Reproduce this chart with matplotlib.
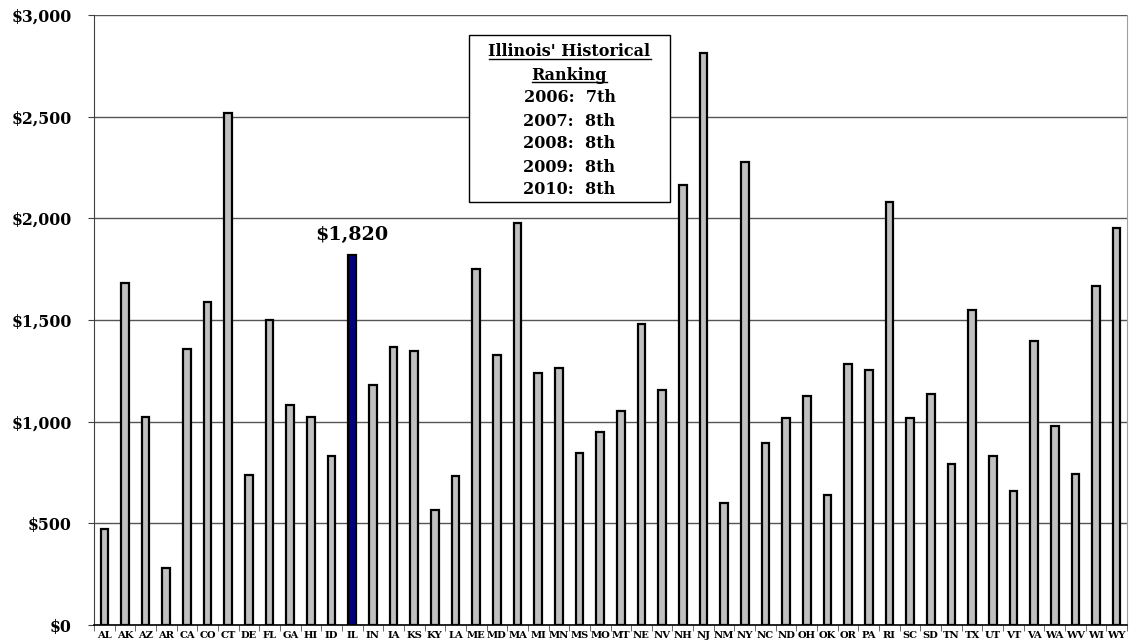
import matplotlib
matplotlib.use("Agg")
import matplotlib.pyplot as plt
from matplotlib.patches import Rectangle
from matplotlib.ticker import FuncFormatter, MultipleLocator
import numpy as np

states = ["AL", "AK", "AZ", "AR", "CA", "CO", "CT", "DE", "FL", "GA",
          "HI", "ID", "IL", "IN", "IA", "KS", "KY", "LA", "ME", "MD",
          "MA", "MI", "MN", "MS", "MO", "MT", "NE", "NV", "NH", "NJ",
          "NM", "NY", "NC", "ND", "OH", "OK", "OR", "PA", "RI", "SC",
          "SD", "TN", "TX", "UT", "VT", "VA", "WA", "WV", "WI", "WY"]
values = [472, 1681, 1021, 279, 1356, 1590, 2517, 739, 1500, 1082,
          1021, 833, 1820, 1180, 1366, 1349, 564, 734, 1753, 1327,
          1979, 1238, 1264, 845, 951, 1052, 1479, 1157, 2162, 2813,
          601, 2275, 896, 1017, 1127, 637, 1282, 1254, 2082, 1017,
          1136, 792, 1549, 831, 661, 1397, 980, 743, 1669, 1954]
highlight = "IL"
box_lines = ["Illinois' Historical", "Ranking", "2006:  7th", "2007:  8th",
             "2008:  8th", "2009:  8th", "2010:  8th"]

plt.rcParams["font.family"] = ["DejaVu Serif"]
plt.rcParams["font.weight"] = "bold"

fig = plt.figure(figsize=(11.3, 6.44), dpi=100)
ax = fig.add_axes([94 / 1130, 19 / 644, 1033 / 1130, 610 / 644])

x = np.arange(len(states))
colors = ["#000080" if s == highlight else "#c0c0c0" for s in states]
ax.bar(x, values, width=0.37, color=colors, edgecolor="black", linewidth=1.6, zorder=3)

ax.set_xlim(-0.5, len(states) - 0.5)
ax.set_ylim(0, 3000)
ax.yaxis.set_major_locator(MultipleLocator(500))
ax.yaxis.set_major_formatter(FuncFormatter(lambda v, p: f"${v:,.0f}"))
ax.grid(axis="y", color="#555555", linewidth=1.0, zorder=0)
ax.set_axisbelow(True)

ax.set_xticks(x)
ax.set_xticklabels(states, fontsize=7.2, fontweight="bold")
ax.set_xticks(np.arange(-0.5, len(states), 1), minor=True)
ax.tick_params(axis="x", which="major", length=0, pad=4)
ax.tick_params(axis="x", which="minor", length=4, color="#555555")
ax.tick_params(axis="y", length=4, pad=12, labelsize=11.3, color="#404040")
for lab in ax.get_yticklabels():
    lab.set_fontweight("bold")

ax.spines["top"].set_visible(False)
ax.spines["right"].set_color("#a0a0a0")
ax.spines["left"].set_color("#404040")
ax.spines["bottom"].set_color("black")
ax.spines["bottom"].set_linewidth(1.2)
ax.spines["bottom"].set_zorder(4)

# label over the Illinois bar
i_hl = states.index(highlight)
ax.annotate(f"${values[i_hl]:,}", xy=(x[i_hl], values[i_hl]), xytext=(0, 8),
            textcoords="offset points", ha="center", va="bottom",
            fontsize=13.8, fontweight="bold")

# historical ranking box
bx0, bx1 = (469 - 94) / 1033, (670 - 94) / 1033
by0, by1 = (625 - 201.5) / 610, (625 - 34.5) / 610
ax.add_patch(Rectangle((bx0, by0), bx1 - bx0, by1 - by0, transform=ax.transAxes,
                       facecolor="white", edgecolor="black", linewidth=1.0, zorder=5))
cx = (bx0 + bx1) / 2
line_h = 23 / 610
top_y = (625 - 52) / 610
texts = []
for k, line in enumerate(box_lines):
    t = ax.text(cx, top_y - k * line_h, line, transform=ax.transAxes, ha="center",
                va="center", fontsize=11.5, fontweight="bold", zorder=6)
    texts.append(t)

# underline the heading lines
fig.canvas.draw()
renderer = fig.canvas.get_renderer()
inv = ax.transAxes.inverted()
for t in texts[:2]:
    bb = t.get_window_extent(renderer=renderer)
    (ux0, uy), (ux1, _) = inv.transform([(bb.x0, bb.y0 + 2), (bb.x1, bb.y0 + 2)])
    ax.plot([ux0, ux1], [uy, uy], transform=ax.transAxes, color="black",
            linewidth=1.0, zorder=6, clip_on=False)

fig.savefig("out.png", dpi=100)
